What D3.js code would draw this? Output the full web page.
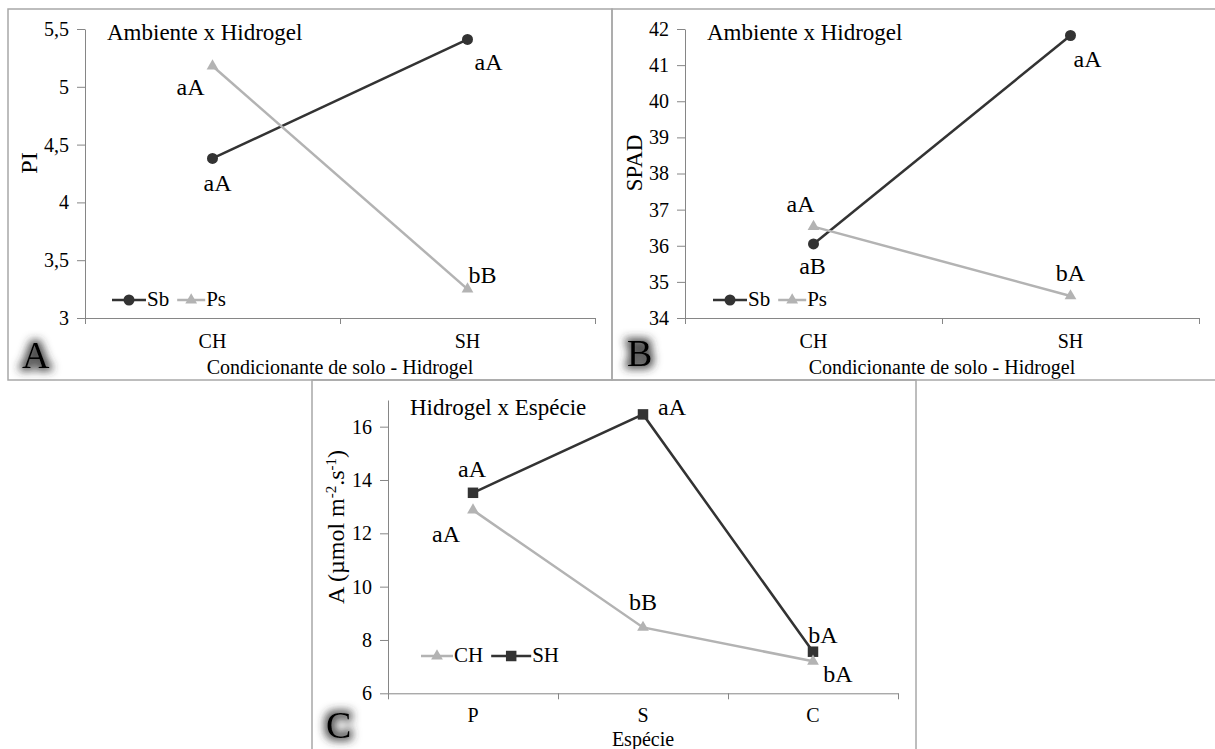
<!DOCTYPE html>
<html>
<head>
<meta charset="utf-8">
<script src="https://cdn.jsdelivr.net/npm/d3@7"></script>
<style>
  body { margin: 0; background: #fff; }
  text { font-family: "Liberation Serif", "Times New Roman", serif; fill: #000; }
</style>
</head>
<body>
<svg id="fig" width="1215" height="749"></svg>
<script>
// ---- Panel A: PI, environment x hydrogel ----
const soilLevels = ["CH", "SH"];
const piSb = [4.38, 5.41];
const piPs = [5.18, 3.25];
const piSbLetters = ["aA", "aA"];
const piPsLetters = ["aA", "bB"];
const piTicks = [3, 3.5, 4, 4.5, 5, 5.5];
const piTickLabels = ["3", "3,5", "4", "4,5", "5", "5,5"];

// ---- Panel B: SPAD, environment x hydrogel ----
const spadSb = [36.05, 41.82];
const spadPs = [36.53, 34.61];
const spadSbLetters = ["aB", "aA"];
const spadPsLetters = ["aA", "bA"];
const spadTicks = [34, 35, 36, 37, 38, 39, 40, 41, 42];
const spadTickLabels = ["34", "35", "36", "37", "38", "39", "40", "41", "42"];

// ---- Panel C: net photosynthesis, hydrogel x species ----
const species = ["P", "S", "C"];
const photoCH = [12.87, 8.47, 7.2];
const photoSH = [13.52, 16.46, 7.56];
const photoCHLetters = ["aA", "bB", "bA"];
const photoSHLetters = ["aA", "aA", "bA"];
const photoTicks = [6, 8, 10, 12, 14, 16];
const photoTickLabels = ["6", "8", "10", "12", "14", "16"];

const DARK = "#333333";
const LIGHT = "#b3b3b3";
const AXIS = "#868686";
const FRAME = "#a8a8a8";

const svg = d3.select("#fig");
svg.append("rect").attr("width", 1215).attr("height", 749).attr("fill", "#fff");

// soft dark halo behind the panel letters
const defs = svg.append("defs");
const glow = defs.append("filter").attr("id", "halo")
  .attr("x", "-80%").attr("y", "-80%").attr("width", "260%").attr("height", "260%");
glow.append("feMorphology").attr("in", "SourceAlpha").attr("operator", "dilate").attr("radius", 2.5).attr("result", "d");
glow.append("feGaussianBlur").attr("in", "d").attr("stdDeviation", 4).attr("result", "b");
glow.append("feFlood").attr("flood-color", "#303030").attr("flood-opacity", 0.85);
glow.append("feComposite").attr("in2", "b").attr("operator", "in").attr("result", "s");
const mg = glow.append("feMerge");
mg.append("feMergeNode").attr("in", "s");
mg.append("feMergeNode").attr("in", "SourceGraphic");

// panel frames
svg.append("rect").attr("x", 8).attr("y", 9).attr("width", 604).attr("height", 371)
  .attr("fill", "none").attr("stroke", FRAME).attr("stroke-width", 1.5);
svg.append("rect").attr("x", 612).attr("y", 9).attr("width", 610).attr("height", 371)
  .attr("fill", "none").attr("stroke", FRAME).attr("stroke-width", 1.5);
svg.append("rect").attr("x", 312).attr("y", 380).attr("width", 604).attr("height", 380)
  .attr("fill", "none").attr("stroke", FRAME).attr("stroke-width", 1.5);

function marker(g, kind, x, y, color) {
  if (kind === "circle") {
    g.append("circle").attr("cx", x).attr("cy", y).attr("r", 5.5).attr("fill", color);
  } else {
    const sym = kind === "square" ? d3.symbolSquare : d3.symbolTriangle;
    const size = kind === "square" ? 110 : 60;
    g.append("path").attr("d", d3.symbol().type(sym).size(size)())
      .attr("transform", `translate(${x},${y})`).attr("fill", color);
  }
}

function drawPanel(p) {
  const g = svg.append("g");
  const x = d3.scaleBand().domain(p.categories).range([p.left, p.right]);
  const xEdge = d3.scaleLinear().domain([0, p.categories.length]).range([p.left, p.right]);
  const y = d3.scaleLinear().domain(p.yDomain).range([p.bottom, p.top]);
  const cx = c => x(c) + x.bandwidth() / 2;

  // y axis
  const ya = g.append("g").attr("transform", `translate(${p.left},0)`)
    .call(d3.axisLeft(y).tickValues(p.ticks).tickFormat((d, i) => p.tickLabels[i])
      .tickSize(8).tickPadding(8).tickSizeOuter(0));
  ya.select(".domain").attr("stroke", AXIS);
  ya.selectAll(".tick line").attr("stroke", AXIS);
  ya.selectAll("text").attr("font-size", 20).attr("font-family", "Liberation Serif").attr("fill", "#000");

  // x axis: ticks on category boundaries
  const xa = g.append("g").attr("transform", `translate(0,${p.bottom})`)
    .call(d3.axisBottom(xEdge).tickValues(d3.range(p.categories.length + 1))
      .tickFormat("").tickSize(6).tickSizeOuter(0));
  xa.select(".domain").attr("stroke", AXIS);
  xa.selectAll(".tick line").attr("stroke", AXIS);
  const xl = g.append("g").attr("transform", `translate(0,${p.bottom})`)
    .call(d3.axisBottom(x).tickSize(0));
  xl.select(".domain").remove();
  xl.selectAll("text").attr("y", p.tickLabelDrop).attr("dy", null)
    .attr("font-size", 20).attr("font-family", "Liberation Serif").attr("fill", "#000");

  // series lines, markers and significance letters
  p.series.forEach(s => {
    const line = d3.line().x((d, i) => cx(p.categories[i])).y(d => y(d));
    g.append("path").datum(s.values).attr("d", line)
      .attr("fill", "none").attr("stroke", s.color).attr("stroke-width", 2.5);
  });
  p.series.forEach(s => {
    s.values.forEach((v, i) => marker(g, s.marker, cx(p.categories[i]), y(v), s.color));
  });
  p.series.forEach(s => {
    s.values.forEach((v, i) => {
      const o = s.letterOffsets[i];
      g.append("text").attr("x", cx(p.categories[i]) + o[0]).attr("y", y(v) + o[1])
        .attr("text-anchor", "middle").attr("font-size", 24).text(s.letters[i]);
    });
  });

  // panel heading
  g.append("text").attr("x", p.titleX).attr("y", p.titleY).attr("font-size", 23).text(p.title);

  // axis titles
  g.append("text").attr("x", (p.left + p.right) / 2).attr("y", p.xTitleY)
    .attr("text-anchor", "middle").attr("font-size", 20).text(p.xTitle);
  const yt = g.append("text").attr("transform", `translate(${p.yTitlePos[0]},${p.yTitlePos[1]}) rotate(-90)`)
    .attr("text-anchor", "middle").attr("font-size", p.yTitleSize);
  p.yTitle.forEach(part => {
    const t = yt.append("tspan").text(part.t);
    if (part.sup) t.attr("baseline-shift", "super").attr("font-size", 15);
  });

  // legend
  let lx = p.legend.x;
  p.series.slice().sort((a, b) => a.legendOrder - b.legendOrder).forEach(s => {
    g.append("line").attr("x1", lx).attr("x2", lx + s.legendLine).attr("y1", p.legend.y).attr("y2", p.legend.y)
      .attr("stroke", s.color).attr("stroke-width", 2.5);
    marker(g, s.marker, lx + s.legendLine / 2, p.legend.y, s.color);
    const tx = g.append("text").attr("x", lx + s.legendLine + 1).attr("y", p.legend.y + 6)
      .attr("font-size", 21).text(s.name);
    lx += s.legendLine + 1 + tx.node().getComputedTextLength() + 8;
  });

  // panel letter
  g.append("text").attr("x", p.letterPos[0]).attr("y", p.letterPos[1])
    .attr("font-size", 38).attr("filter", "url(#halo)").text(p.letter);
}

drawPanel({
  categories: soilLevels, left: 85, right: 595, top: 29, bottom: 318,
  yDomain: [3, 5.5], ticks: piTicks, tickLabels: piTickLabels, tickLabelDrop: 30,
  title: "Ambiente x Hidrogel", titleX: 107, titleY: 40,
  xTitle: "Condicionante de solo - Hidrogel", xTitleY: 374,
  yTitle: [{ t: "PI" }], yTitlePos: [37, 163], yTitleSize: 24,
  legend: { x: 112, y: 300 }, letter: "A", letterPos: [22, 368],
  series: [
    { name: "Sb", values: piSb, letters: piSbLetters, color: DARK, marker: "circle", legendOrder: 0, legendLine: 34,
      letterOffsets: [[5, 33], [21, 31]] },
    { name: "Ps", values: piPs, letters: piPsLetters, color: LIGHT, marker: "triangle", legendOrder: 1, legendLine: 28,
      letterOffsets: [[-22, 29], [15, -6]] }
  ]
});

drawPanel({
  categories: soilLevels, left: 685, right: 1199, top: 29, bottom: 318,
  yDomain: [34, 42], ticks: spadTicks, tickLabels: spadTickLabels, tickLabelDrop: 30,
  title: "Ambiente x Hidrogel", titleX: 707, titleY: 40,
  xTitle: "Condicionante de solo - Hidrogel", xTitleY: 374,
  yTitle: [{ t: "SPAD" }], yTitlePos: [642, 163], yTitleSize: 23,
  legend: { x: 713, y: 300 }, letter: "B", letterPos: [627, 366],
  series: [
    { name: "Sb", values: spadSb, letters: spadSbLetters, color: DARK, marker: "circle", legendOrder: 0, legendLine: 34,
      letterOffsets: [[-1, 30], [17, 31]] },
    { name: "Ps", values: spadPs, letters: spadPsLetters, color: LIGHT, marker: "triangle", legendOrder: 1, legendLine: 28,
      letterOffsets: [[-13, -15], [0, -15]] }
  ]
});

drawPanel({
  categories: species, left: 388, right: 898, top: 400, bottom: 693.3,
  yDomain: [6, 17], ticks: photoTicks, tickLabels: photoTickLabels, tickLabelDrop: 29,
  title: "Hidrogel x Espécie", titleX: 410, titleY: 415,
  xTitle: "Espécie", xTitleY: 746,
  yTitle: [{ t: "A (µmol m" }, { t: "-2", sup: true }, { t: ".s" }, { t: "-1", sup: true }, { t: ")" }],
  yTitlePos: [344, 527], yTitleSize: 24,
  legend: { x: 421, y: 656 }, letter: "C", letterPos: [326, 738],
  series: [
    { name: "SH", values: photoSH, letters: photoSHLetters, color: DARK, marker: "square", legendOrder: 1, legendLine: 40,
      letterOffsets: [[-1, -16], [29, 1], [10, -9]] },
    { name: "CH", values: photoCH, letters: photoCHLetters, color: LIGHT, marker: "triangle", legendOrder: 0, legendLine: 32,
      letterOffsets: [[-27, 32], [0, -17], [25, 21]] }
  ]
});
</script>
</body>
</html>
